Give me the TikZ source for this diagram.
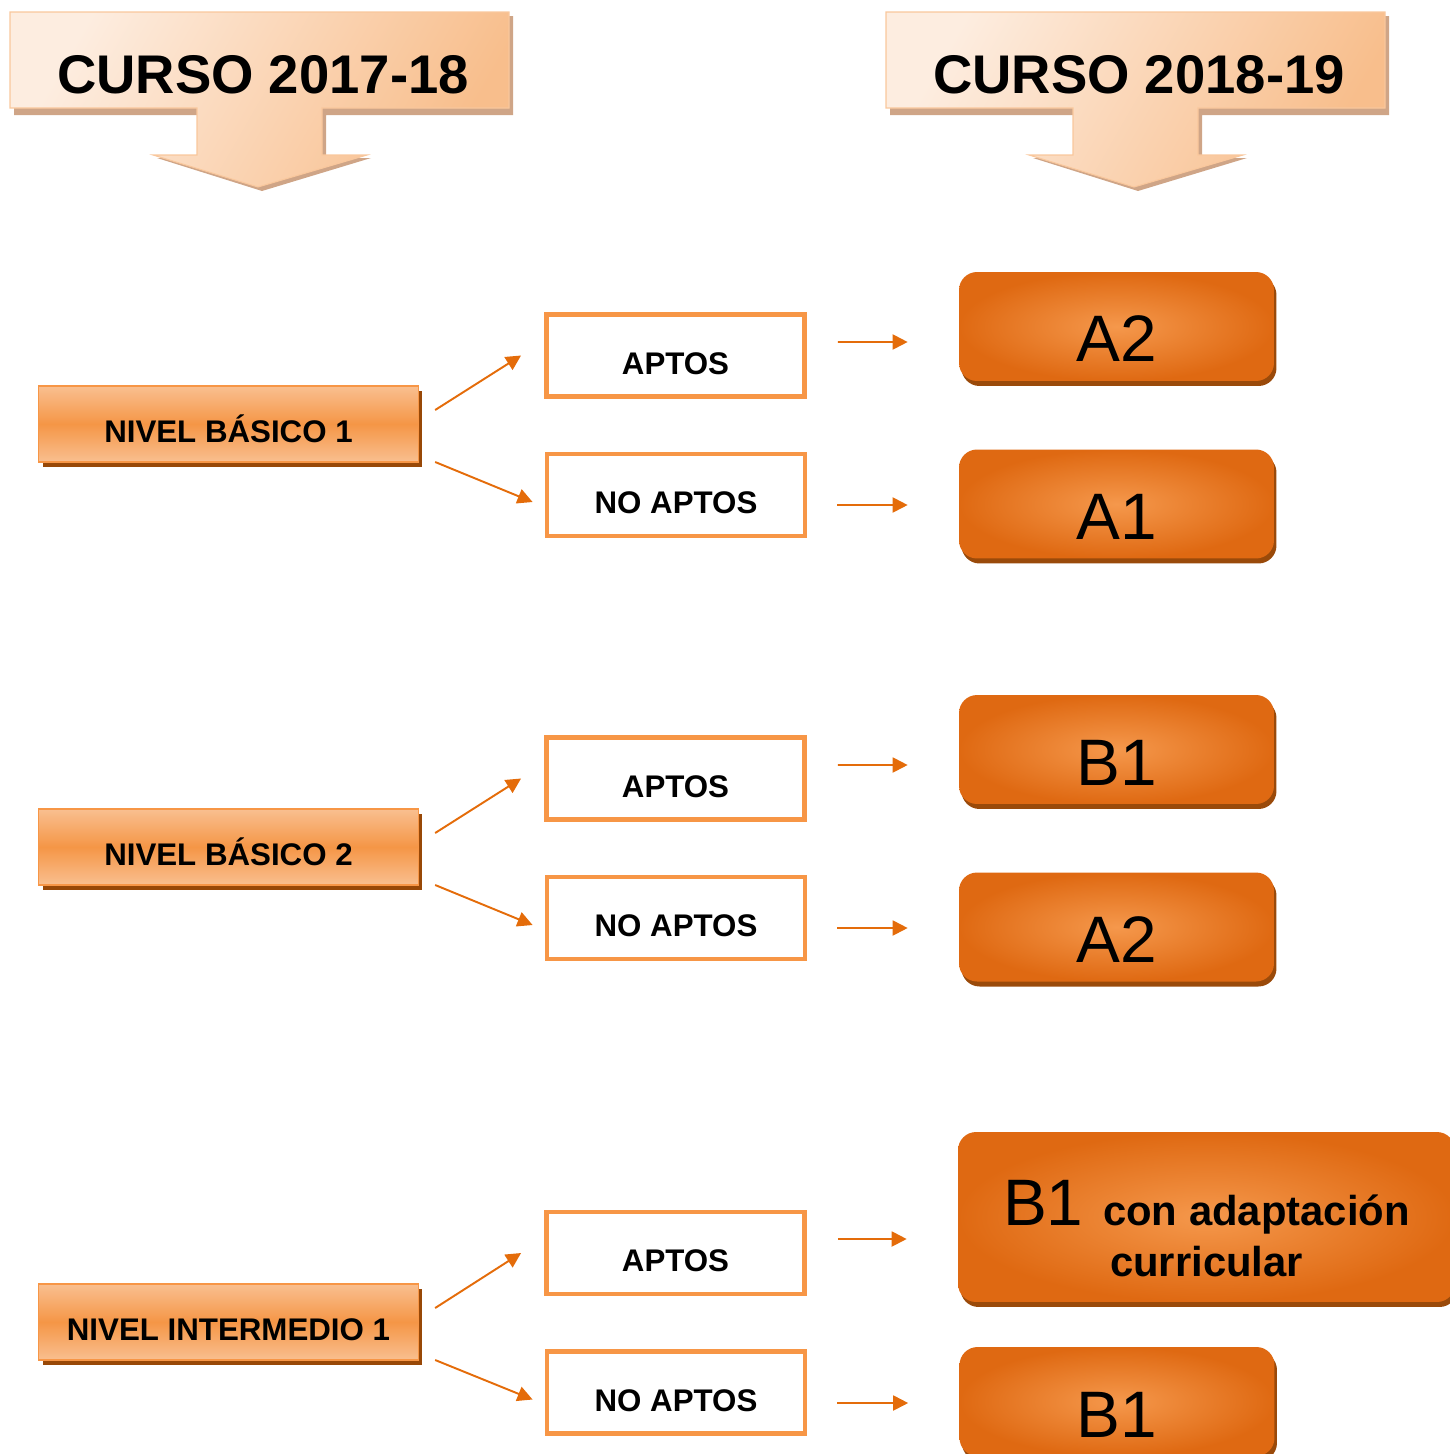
\documentclass[tikz,border=0pt]{standalone}
\usepackage{fontspec}
\setmainfont{Liberation Sans}
\usepackage{tikz}
\usetikzlibrary{positioning,arrows.meta,calc,shadows}

\definecolor{hdlight}{HTML}{FDEDE0}
\definecolor{hddark}{HTML}{F8BE8C}
\definecolor{hdline}{HTML}{F9C79C}
\definecolor{hdshadow}{HTML}{CFA587}
\definecolor{lvlborder}{HTML}{F79646}
\definecolor{lvlmid}{HTML}{F59646}
\definecolor{lvllight}{HTML}{F9BF90}
\definecolor{lvlshadow}{HTML}{984807}
\definecolor{conncol}{HTML}{E46C0A}
\definecolor{resin}{HTML}{F5984C}
\definecolor{resout}{HTML}{DF6912}
\definecolor{resshadow}{HTML}{9A4A0A}

\begin{document}
\begin{tikzpicture}[x=0.02cm,y=-0.02cm,>={Triangle[length=0.3cm,width=0.3cm]}]
  \tikzset{
    lvlbox/.style={rectangle,draw=lvlborder,line width=0.8pt,
      top color=lvllight,bottom color=lvllight,middle color=lvlmid,
      minimum width=7.6cm,minimum height=1.52cm,text height=0.72cm,text depth=0cm,
      font={\fontsize{17.8}{21}\selectfont\bfseries},
      drop shadow={shadow xshift=0.08cm,shadow yshift=-0.1cm,fill=lvlshadow,opacity=1}},
    aptbox/.style={rectangle,draw=lvlborder,line width=2.8pt,fill=white,
      minimum width=5.16cm,minimum height=1.64cm,text height=0.74cm,text depth=0cm,
      font={\fontsize{17.8}{21}\selectfont\bfseries}},
    resbox/.style={rectangle,rounded corners=0.36cm,inner color=resin,outer color=resout,
      minimum width=6.3cm,minimum height=2.18cm,text height=1.42cm,text depth=0cm,
      font={\fontsize{37.4}{44}\selectfont},
      drop shadow={shadow xshift=0.05cm,shadow yshift=-0.1cm,fill=resshadow,opacity=1}},
    hdtext/.style={font={\fontsize{31}{36}\selectfont\bfseries}},
    conn/.style={->,draw=conncol,line width=1.1pt}
  }
  \useasboundingbox (0,0) rectangle (1450,1454);

  % Headers
  \foreach \dx in {0,876}{
    \fill[hdshadow,shift={(\dx,0)}] (14,16) -- (513,16) -- (513,115) -- (326,115) -- (326,158)
      -- (371,158) -- (262,191) -- (157,158) -- (201,158) -- (201,115) -- (14,115) -- cycle;
    \shade[left color=hdlight,right color=hddark,shading angle=60,draw=hdline,line width=0.6pt,shift={(\dx,0)}]
      (10,12) -- (509,12) -- (509,108) -- (322,108) -- (322,155)
      -- (367,155) -- (258,187) -- (153,155) -- (197,155) -- (197,108) -- (10,108) -- cycle;
  }
  \node[hdtext] (c1718) at (263,75) {CURSO 2017-18};
  \node[hdtext] (c1819) at (1139,75) {CURSO 2018-19};

  % Nivel basico 1
  \node[lvlbox] (nb1) at (228.5,424) {NIVEL BÁSICO 1};
  \node[aptbox] (ap1) at (675.5,355.5) {APTOS};
  \node[aptbox] (nap1) at (676,495) {NO APTOS};
  \node[resbox] (ra2) at (1116.5,326.5) {A2};
  \node[resbox] (ra1) at (1116.5,504) {A1};

  % Nivel basico 2
  \node[lvlbox] (nb2) at (228.5,847) {NIVEL BÁSICO 2};
  \node[aptbox] (ap2) at (675.5,778.5) {APTOS};
  \node[aptbox] (nap2) at (676,918) {NO APTOS};
  \node[resbox] (rb1) at (1116.5,749.5) {B1};
  \node[resbox] (ra2b) at (1116.5,927) {A2};

  % Nivel intermedio 1
  \node[lvlbox] (ni1) at (228.5,1322) {NIVEL INTERMEDIO 1};
  \node[aptbox] (ap3) at (675.5,1253) {APTOS};
  \node[aptbox] (nap3) at (676,1392.5) {NO APTOS};
  \node[resbox,minimum width=9.94cm,minimum height=3.4cm,align=center,text height=,text depth=,
    font={\fontsize{23.8}{28.9}\selectfont\bfseries}] (rb1ad) at (1206.5,1217)
    {\rule{0pt}{1.38cm}{\fontsize{37.4}{44}\selectfont\mdseries B1}\hspace{0.16cm} con adaptación\\curricular};
  \node[resbox] (rb1b) at (1117,1401.5) {B1};

  % Edges
  \draw[conn] ($(nb1.east)+(16,-14)$) -- ($(ap1.west)+(-23,0)$);
  \draw[conn] ($(nb1.east)+(16,38)$) -- ($(nap1.west)+(-12,7)$);
  \draw[conn] ($(ap1.east)+(31,-13.5)$) -- ($(ra2.west)+(-51,15.5)$);
  \draw[conn] ($(nap1.east)+(30,10)$) -- ($(ra1.west)+(-51,1)$);

  \draw[conn] ($(nb2.east)+(16,-14)$) -- ($(ap2.west)+(-23,0)$);
  \draw[conn] ($(nb2.east)+(16,38)$) -- ($(nap2.west)+(-12,7)$);
  \draw[conn] ($(ap2.east)+(31,-13.5)$) -- ($(rb1.west)+(-51,15.5)$);
  \draw[conn] ($(nap2.east)+(30,10)$) -- ($(ra2b.west)+(-51,1)$);

  \draw[conn] ($(ni1.east)+(16,-14)$) -- ($(ap3.west)+(-23,0)$);
  \draw[conn] ($(ni1.east)+(16,38)$) -- ($(nap3.west)+(-12,7)$);
  \draw[conn] ($(ap3.east)+(31,-14)$) -- ($(rb1ad.west)+(-51,22)$);
  \draw[conn] ($(nap3.east)+(30,10.5)$) -- ($(rb1b.west)+(-51,1.5)$);
\end{tikzpicture}
\end{document}
